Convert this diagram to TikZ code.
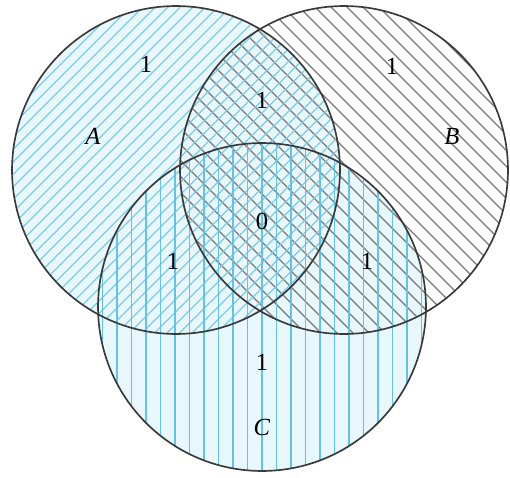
\documentclass[tikz,border=0pt]{standalone}
\usepackage{fontspec}
\setmainfont{Liberation Serif}
\usepackage{tikz}
\definecolor{lightfill}{HTML}{E8F7FB}
\definecolor{bluehatch}{HTML}{7FCBE6}
\definecolor{cbluehatch}{HTML}{66C2E2}
\definecolor{grayhatch}{HTML}{787878}
\definecolor{rim}{HTML}{3A3A3A}

\begin{document}
\begin{tikzpicture}[x=0.02cm,y=-0.02cm,font=\fontsize{14}{16}\selectfont,
    rimline/.style={draw=rim,line width=0.95pt},
    ahatch/.style={bluehatch,line width=0.7pt},
    bhatch/.style={grayhatch,line width=0.65pt},
    chatch/.style={cbluehatch,line width=0.75pt},
    lab/.style={inner sep=0pt}]
    \useasboundingbox (0,0) rectangle (510,477);
    \coordinate (ca) at (176,170);
    \coordinate (cb) at (344,170);
    \coordinate (cc) at (262,307);
    % light background of A and C
    \fill[lightfill] (ca) circle (3.28cm);
    \fill[lightfill] (cc) circle (3.28cm);
    % hatching of B
    \begin{scope}
      \clip (cb) circle (3.28cm);
      \foreach \x in {-300,-284,...,520}
        \draw[bhatch] (\x,0) -- ++(500,500);
    \end{scope}
    % hatching of A
    \begin{scope}
      \clip (ca) circle (3.28cm);
      \foreach \x in {0,12.5,...,720}
        \draw[ahatch] (\x,0) -- ++(-500,500);
    \end{scope}
    % hatching of C
    \begin{scope}
      \clip (cc) circle (3.28cm);
      \foreach \x in {88,102.5,...,440}
        \draw[chatch] (\x,130) -- (\x,480);
    \end{scope}
    % outlines
    \draw[rimline] (ca) circle (3.28cm);
    \draw[rimline] (cb) circle (3.28cm);
    \draw[rimline] (cc) circle (3.28cm);
    % labels
    \node[lab] (na) at (93,136) {\textit{A}};
    \node[lab] (nb) at (452,136) {\textit{B}};
    \node[lab] (nc) at (262,427) {\textit{C}};
    \node[lab] (va) at (146,64) {1};
    \node[lab] (vb) at (392,66) {1};
    \node[lab] (vab) at (262,100) {1};
    \node[lab] (vac) at (173,261) {1};
    \node[lab] (vbc) at (367,261) {1};
    \node[lab] (vc) at (262,362) {1};
    \node[lab] (vabc) at (262,221) {0};
\end{tikzpicture}
\end{document}
